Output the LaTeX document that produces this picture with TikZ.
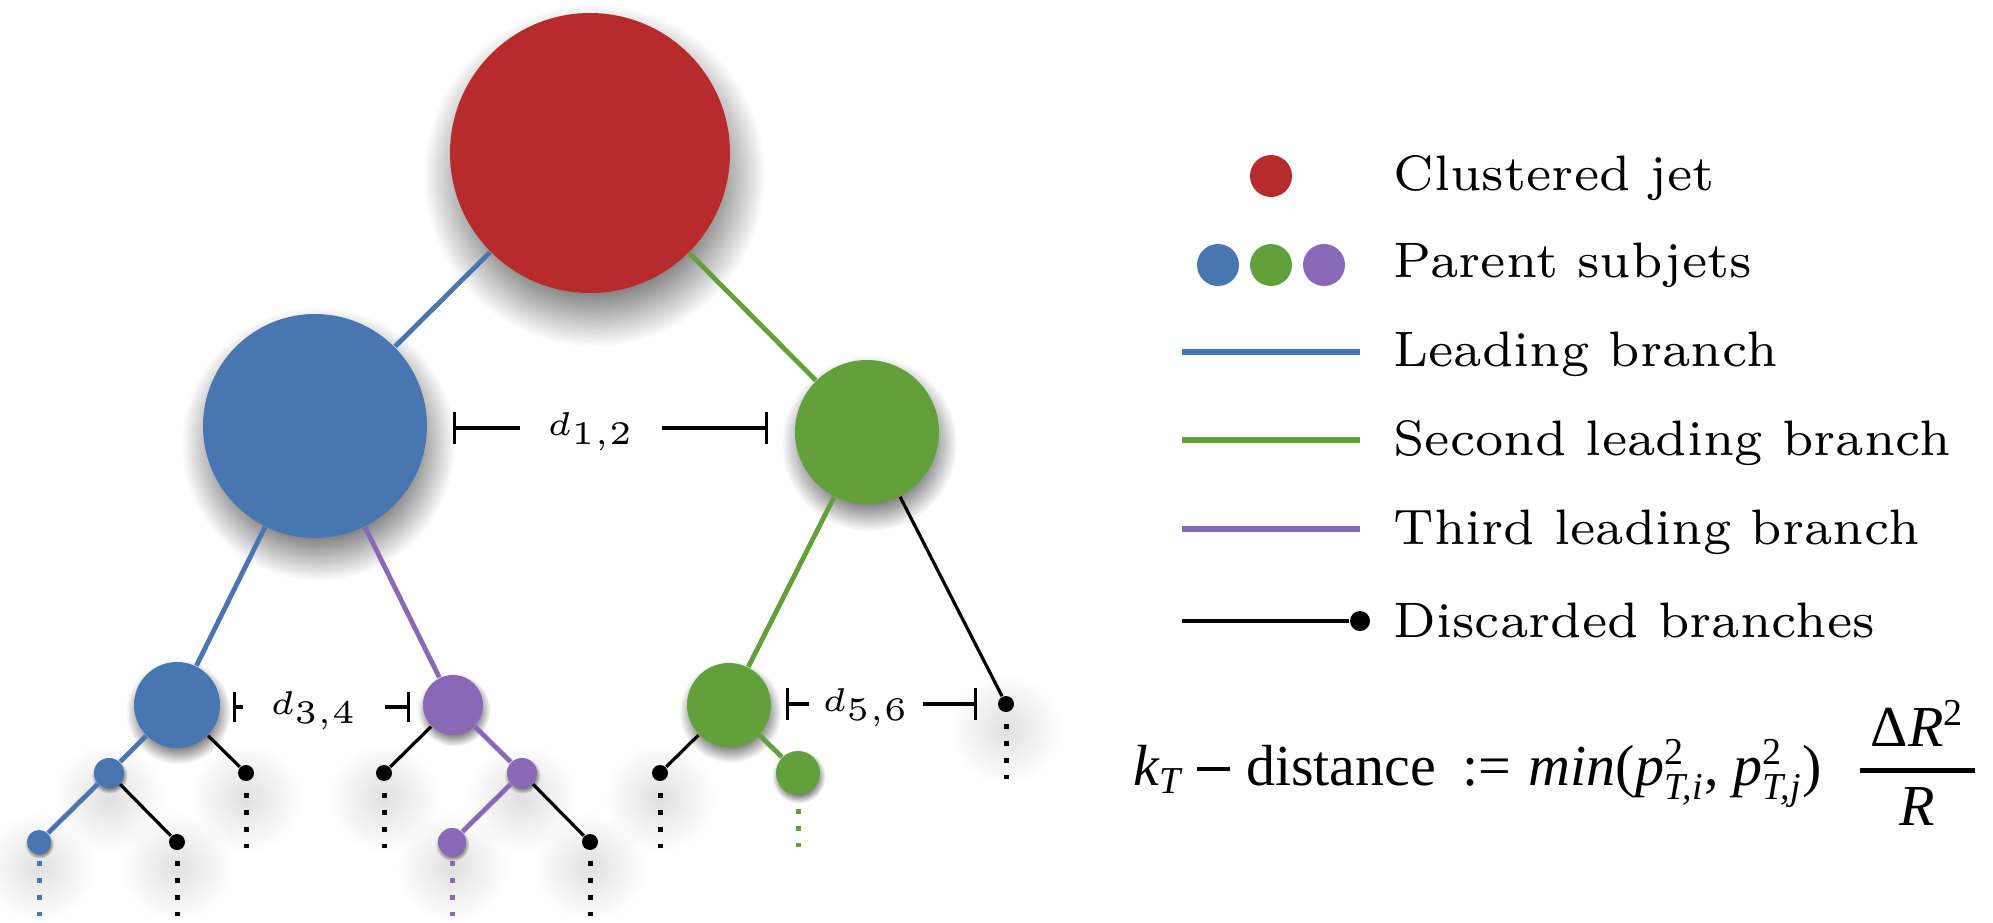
\documentclass[tikz,border=0pt]{standalone}
\usepackage{fontspec}
\newfontfamily\tms{Liberation Serif}
\usetikzlibrary{arrows.meta,fadings}
\definecolor{cred}{RGB}{183,43,45}
\definecolor{cblue}{RGB}{72,118,176}
\definecolor{cgreen}{RGB}{98,160,60}
\definecolor{cpurple}{RGB}{137,104,184}
\pgfdeclareradialshading{softshadeS}{\pgfpointorigin}{color(0bp)=(pgftransparent!0); color(15bp)=(pgftransparent!0); color(25bp)=(pgftransparent!100); color(50bp)=(pgftransparent!100)}
\pgfdeclarefading{softfade}{\pgfuseshading{softshadeS}}
\pgfdeclareradialshading{hazeshadeS}{\pgfpointorigin}{color(0bp)=(pgftransparent!0); color(25bp)=(pgftransparent!100); color(50bp)=(pgftransparent!100)}
\pgfdeclarefading{hazefade}{\pgfuseshading{hazeshadeS}}
\pgfdeclarelayer{bg}
\pgfsetlayers{bg,main}
\newcommand\ffit[1]{{\itshape #1}}
\newcommand\ssz{\fontsize{9.5}{10}\selectfont}
\begin{document}
\begin{tikzpicture}[x=0.25pt,y=-0.25pt,
  circ/.style={circle,inner sep=0pt,minimum size=#1*0.5pt},
  kdot/.style={circle,fill=black,inner sep=0pt,minimum size=4pt},
  br/.style={line width=1.2pt},
  lead/.style={br,draw=cblue},
  second/.style={br,draw=cgreen},
  third/.style={br,draw=cpurple},
  disc/.style={line width=0.8pt,draw=black},
  dotsty/.style={line width=1.25pt,dash pattern=on 1.2pt off 3.05pt,shorten <=#1*0.25pt},
  meas/.style={line width=0.8pt},
  dlab/.style={font=\fontsize{5}{6}\selectfont,scale=1.65,inner sep=0pt},
  legtxt/.style={font=\fontsize{7}{8}\selectfont,scale=1.78,anchor=base west,inner sep=0pt},
  legline/.style={line width=1.5pt},
  shd/.style={fill=black,opacity=0.6,path fading=softfade},
  haze/.style={fill=black,opacity=0.12,path fading=hazefade}]
\useasboundingbox (0,0) rectangle (1993,922);

% tree nodes
\node[circ=140,fill=cred] (R) at (590,153) {};
\node[circ=112,fill=cblue] (B1) at (315,426) {};
\node[circ=72,fill=cgreen] (G1) at (867,432) {};
\node[circ=43,fill=cblue] (B2) at (177,705) {};
\node[circ=30,fill=cpurple] (P2) at (453,705) {};
\node[circ=42,fill=cgreen] (G2) at (729,705) {};
\node[circ=15,fill=cblue] (B3) at (109,773) {};
\node[circ=15,fill=cpurple] (P3) at (522,773) {};
\node[circ=22,fill=cgreen] (G3) at (798,773) {};
\node[circ=12,fill=cblue] (B4) at (39,842) {};
\node[circ=14,fill=cpurple] (P4) at (452,842) {};
\node[kdot] (k1) at (246,773) {};
\node[kdot] (k2) at (384,773) {};
\node[kdot] (k3) at (660,773) {};
\node[kdot] (k4) at (1006,704) {};
\node[kdot] (k5) at (177,842) {};
\node[kdot] (k6) at (590,842) {};

% shadows
\begin{pgfonlayer}{bg}
\foreach \n/\r in {R/140,B1/112,G1/72,B2/43,P2/30,G2/42,G3/22,B3/15,P3/15,B4/12,P4/14}
  \fill[shd] ([shift={(0.03*\r,0.16*\r)}]\n.center) circle[radius=1.22*\r];
\foreach \n in {k1,k2,k3,k4,k5,k6,B3,B4,P3,P4}
  \fill[haze] ([shift={(0,25)}]\n.center) circle[radius=55];
\end{pgfonlayer}

% branches
\draw[lead] (R) -- (B1);
\draw[second] (R) -- (G1);
\draw[lead] (B1) -- (B2);
\draw[third] (B1) -- (P2);
\draw[second] (G1) -- (G2);
\draw[disc] (G1) -- (k4);
\draw[lead] (B2) -- (B3);
\draw[disc] (B2) -- (k1);
\draw[disc] (P2) -- (k2);
\draw[third] (P2) -- (P3);
\draw[disc] (G2) -- (k3);
\draw[second] (G2) -- (G3);
\draw[lead] (B3) -- (B4);
\draw[disc] (B3) -- (k5);
\draw[third] (P3) -- (P4);
\draw[disc] (P3) -- (k6);

% continuation dots
\coordinate (e1) at (246,848);
\coordinate (e2) at (384,848);
\coordinate (e3) at (660,848);
\coordinate (e4) at (1006,779);
\coordinate (e5) at (177,916);
\coordinate (e6) at (590,916);
\coordinate (eB4) at (39,916);
\coordinate (eP4) at (452,916);
\coordinate (eG3) at (798,847);
\draw[dotsty=11] (k1.south) -- (e1);
\draw[dotsty=11] (k2.south) -- (e2);
\draw[dotsty=11] (k3.south) -- (e3);
\draw[dotsty=11] (k4.south) -- (e4);
\draw[dotsty=10] (k5.south) -- (e5);
\draw[dotsty=10] (k6.south) -- (e6);
\draw[dotsty=6,draw=cblue] (B4.south) -- (eB4);
\draw[dotsty=4,draw=cpurple] (P4.south) -- (eP4);
\draw[dotsty=13,draw=cgreen] (G3.south) -- (eG3);

% distances
\coordinate (m12a) at (453,428);
\coordinate (m12b) at (768,428);
\node[dlab,anchor=base,minimum width=139*0.1515pt] (d12) at (591,435) {$d_{1,2}$};
\draw[meas,{Bar[width=8pt]}-] (m12a) -- (m12a -| d12.west);
\draw[meas,-{Bar[width=8pt]}] (m12b -| d12.east) -- (m12b);

\coordinate (m34a) at (233,707);
\coordinate (m34b) at (410,707);
\node[dlab,anchor=base,minimum width=139*0.1515pt] (d34) at (314,714) {$d_{3,4}$};
\draw[meas,{Bar[width=7.5pt]}-] (m34a) -- (m34a -| d34.west);
\draw[meas,-{Bar[width=7.5pt]}] (m34b -| d34.east) -- (m34b);

\coordinate (m56a) at (786,704);
\coordinate (m56b) at (977,704);
\node[dlab,anchor=base,minimum width=112*0.1515pt] (d56) at (866,711) {$d_{5,6}$};
\draw[meas,{Bar[width=8pt]}-] (m56a) -- (m56a -| d56.west);
\draw[meas,-{Bar[width=8pt]}] (m56b -| d56.east) -- (m56b);

% legend
\node[circ=21,fill=cred] (LR) at (1271,176) {};
\node[circ=21,fill=cblue] (LB) at (1218,265) {};
\node[circ=21,fill=cgreen] (LG) at (1271,265) {};
\node[circ=21,fill=cpurple] (LP) at (1324,265) {};
\coordinate (L1a) at (1182,352); \coordinate (L1b) at (1360,352);
\coordinate (L2a) at (1182,440); \coordinate (L2b) at (1360,440);
\coordinate (L3a) at (1182,529); \coordinate (L3b) at (1360,529);
\coordinate (L4a) at (1182,621);
\node[kdot,minimum size=5pt] (L4d) at (1360,621) {};
\draw[legline,cblue] (L1a) -- (L1b);
\draw[legline,cgreen] (L2a) -- (L2b);
\draw[legline,cpurple] (L3a) -- (L3b);
\draw[line width=1pt] (L4a) -- (L4d);
\node[legtxt] (t1) at (1392,190) {Clustered jet};
\node[legtxt] (t2) at (1392,277) {Parent subjets};
\node[legtxt] (t3) at (1392,366) {Leading branch};
\node[legtxt] (t4) at (1392,455) {Second leading branch};
\node[legtxt] (t5) at (1392,544) {Third leading branch};
\node[legtxt] (t6) at (1392,637) {Discarded branches};

% formula
\node[anchor=base west,inner sep=0pt,font=\tms\fontsize{14.5}{17}\selectfont] (kt) at (1133,785)
 {\ffit{k}$_{\mbox{\ssz\ffit{T}}}$\hspace{3.6pt}\rule[3.55pt]{8.25pt}{0.9pt}\hspace{4pt}distance\hspace{6.6pt}:=\hspace{4.4pt}\ffit{min}(\ffit{p}$^{\mbox{\ssz 2}}_{\mbox{\ssz\ffit{T,i}}}$,\hspace{3.6pt}\ffit{p}$^{\mbox{\ssz 2}}_{\mbox{\ssz\ffit{T,j}}}$)\hspace{8.3pt}$\displaystyle{\hbox to 28.75pt{\hss Δ\ffit{R}$^{\mbox{\ssz 2}}$\hss}\above 1.2pt\mbox{\ffit{R}}}$};
\end{tikzpicture}
\end{document}
